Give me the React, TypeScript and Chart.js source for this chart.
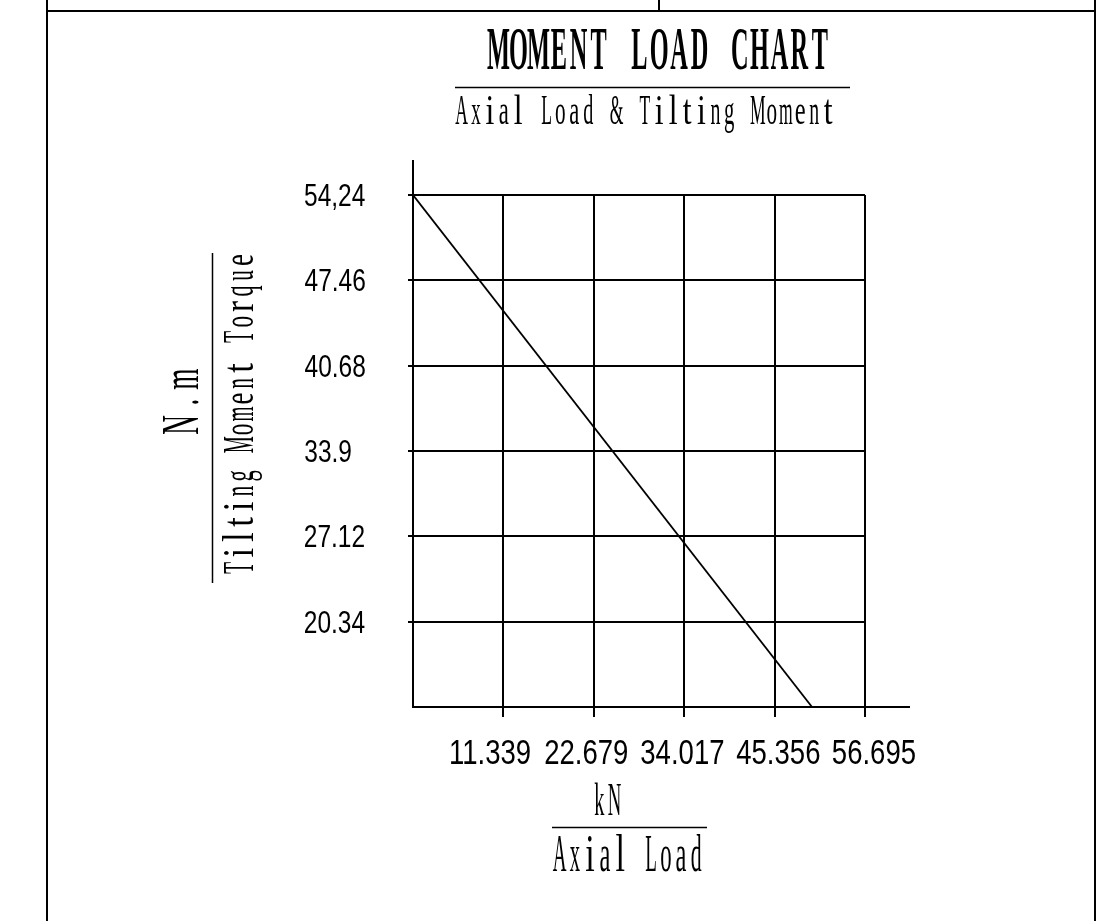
import React, { useEffect, useRef } from "react";
import { Chart, registerables } from "chart.js";

Chart.register(...registerables);

// ---- data ----
const axialLoad = [0, 50.05];
const tiltingMoment = [54.24, 13.56];
const xTickValues = [11.339, 22.679, 34.017, 45.356, 56.695];
const xTickLabels = ["11.339", "22.679", "34.017", "45.356", "56.695"];
const yTickValues = [20.34, 27.12, 33.9, 40.68, 47.46, 54.24];
const yTickLabels = ["20.34", "27.12", "33.9", "40.68", "47.46", "54,24"];
const xMin = 0;
const xMax = 56.695;
const yMin = 13.56;
const yMax = 54.24;

const titleText = "MOMENT LOAD CHART";
const subtitleText = "Axial Load & Tilting Moment";
const yUnitText = "N.m";
const yTitleText = "Tilting Moment Torque";
const xUnitText = "kN";
const xTitleText = "Axial Load";

const TITLE_FONT = '"Liberation Serif", "DejaVu Serif", serif';
const TICK_FONT = '"Liberation Sans", "DejaVu Sans", sans-serif';

// monospace-like CAD text: each char centered in a cell of width pitch
function drawMono(
  ctx: CanvasRenderingContext2D,
  text: string,
  cx: number,
  baseline: number,
  pitch: number,
  capH: number,
  rotated: boolean,
  glyphFactor: number,
  minFill: number,
  weight: string
) {
  ctx.save();
  ctx.font = `${weight} 100px ${TITLE_FONT}`;
  const mM = ctx.measureText("M");
  const mW = mM.actualBoundingBoxLeft + mM.actualBoundingBoxRight;
  const capAsc = ctx.measureText("H").actualBoundingBoxAscent;
  const sx = (pitch * glyphFactor) / mW;
  const sy = capH / capAsc;
  ctx.translate(cx, baseline);
  if (rotated) ctx.rotate(-Math.PI / 2);
  ctx.fillStyle = "#000";
  ctx.textAlign = "left";
  ctx.textBaseline = "alphabetic";
  const n = text.length;
  const start = (-n * pitch) / 2;
  for (let i = 0; i < n; i++) {
    const ch = text[i];
    if (ch === " ") continue;
    const m = ctx.measureText(ch);
    const w = m.actualBoundingBoxLeft + m.actualBoundingBoxRight;
    let s = sx;
    if (w > 0 && w * sx < minFill * pitch && !".,".includes(ch)) {
      s = sx * Math.min((minFill * pitch) / (w * sx), 1.8);
    }
    const inkC = (m.actualBoundingBoxRight - m.actualBoundingBoxLeft) / 2;
    ctx.save();
    ctx.translate(start + (i + 0.5) * pitch, 0);
    ctx.scale(s, sy);
    ctx.fillText(ch, -inkC, 0);
    ctx.restore();
  }
  ctx.restore();
}

// tick text with a given scale
function drawTick(
  ctx: CanvasRenderingContext2D,
  text: string,
  x: number,
  y: number,
  sx: number,
  sy: number,
  align: "left" | "center"
) {
  ctx.save();
  ctx.font = `normal 100px ${TICK_FONT}`;
  const m = ctx.measureText(text);
  ctx.translate(x, y);
  ctx.scale(sx, sy);
  ctx.textAlign = "left";
  ctx.textBaseline = "alphabetic";
  ctx.fillStyle = "#000";
  const off = align === "left" ? m.actualBoundingBoxLeft : -(m.actualBoundingBoxRight - m.actualBoundingBoxLeft) / 2;
  ctx.fillText(text, off, 0);
  ctx.restore();
}

function measureScale(ctx: CanvasRenderingContext2D, text: string, w: number, h: number) {
  ctx.save();
  ctx.font = `normal 100px ${TICK_FONT}`;
  const m = ctx.measureText(text);
  const inkW = m.actualBoundingBoxLeft + m.actualBoundingBoxRight;
  const asc = ctx.measureText("0").actualBoundingBoxAscent;
  ctx.restore();
  return { sx: w / inkW, sy: h / asc };
}

function line(ctx: CanvasRenderingContext2D, x1: number, y1: number, x2: number, y2: number, w: number) {
  ctx.save();
  ctx.strokeStyle = "#000";
  ctx.lineWidth = w;
  ctx.beginPath();
  ctx.moveTo(x1, y1);
  ctx.lineTo(x2, y2);
  ctx.stroke();
  ctx.restore();
}

const drawingPlugin = {
  id: "cadDrawing",
  beforeDraw(chart: any) {
    const ctx = chart.ctx as CanvasRenderingContext2D;
    // sheet frame
    line(ctx, 47, 0, 47, 921, 2);
    line(ctx, 1095, 0, 1095, 921, 2);
    line(ctx, 47, 11, 1095, 11, 2);
    line(ctx, 659, 0, 659, 11, 2);
  },
  afterDraw(chart: any) {
    const ctx = chart.ctx as CanvasRenderingContext2D;
    const { left, top, right, bottom } = chart.chartArea;
    // axis extensions
    line(ctx, left, top, left, top - 35, 2);
    line(ctx, right, bottom, right + 45, bottom, 2);

    // tick labels (condensed), placed through the scales
    const xs = chart.scales.x;
    const ys = chart.scales.y;
    const xk = measureScale(ctx, "11.339", 79, 24);
    xTickValues.forEach((v, i) => {
      drawTick(ctx, xTickLabels[i], xs.getPixelForValue(v) + (i - 2) * 5.5 - 2, 764, xk.sx, xk.sy, "center");
    });
    const yk = measureScale(ctx, "47.46", 60, 22);
    yTickValues.forEach((v, i) => {
      drawTick(ctx, yTickLabels[i], 305, ys.getPixelForValue(v) + 11, yk.sx, yk.sy, "left");
    });

    // titles
    drawMono(ctx, titleText, 659, 69, 20.1, 40, false, 1.1, 0.6, "bold");
    line(ctx, 455, 87.5, 850, 87.5, 1.5);
    drawMono(ctx, subtitleText, 645, 124, 14.1, 27, false, 1.05, 0.66, "normal");

    // y-axis title
    drawMono(ctx, yUnitText, 198, 402, 23, 34, true, 1.0, 0.66, "normal");
    line(ctx, 212.5, 253, 212.5, 583, 1.5);
    drawMono(ctx, yTitleText, 253, 414, 15.4, 29, true, 1.05, 0.66, "normal");

    // x-axis title
    drawMono(ctx, xUnitText, 607, 815, 15, 30, false, 1.05, 0.66, "normal");
    line(ctx, 552, 827.5, 707, 827.5, 1.5);
    drawMono(ctx, xTitleText, 628, 871, 15.2, 34, false, 1.05, 0.66, "normal");
  },
};

export default function App() {
  const canvasRef = useRef<HTMLCanvasElement | null>(null);

  useEffect(() => {
    const canvas = canvasRef.current;
    if (!canvas) return;
    const chart = new Chart(canvas, {
      type: "scatter",
      data: {
        datasets: [
          {
            label: "Moment load",
            data: axialLoad.map((x, i) => ({ x, y: tiltingMoment[i] })),
            showLine: true,
            borderColor: "#000",
            borderWidth: 1.8,
            pointRadius: 0,
            fill: false,
          },
        ],
      },
      options: {
        animation: false,
        responsive: false,
        devicePixelRatio: 1,
        layout: { padding: { left: 305, top: 195, right: 248, bottom: 154 } },
        plugins: {
          legend: { display: false },
          tooltip: { enabled: false },
          title: { display: false },
        },
        scales: {
          x: {
            type: "linear",
            min: xMin,
            max: xMax,
            afterBuildTicks: (s: any) => {
              s.ticks = xTickValues.map((v) => ({ value: v }));
            },
            afterFit: (s: any) => {
              s.height = 60;
            },
            ticks: { display: false },
            grid: { color: "#000", lineWidth: 2, tickLength: 10, drawTicks: true },
            border: { display: true, color: "#000", width: 2 },
          },
          y: {
            type: "linear",
            min: yMin,
            max: yMax,
            afterBuildTicks: (s: any) => {
              s.ticks = yTickValues.map((v) => ({ value: v }));
            },
            afterFit: (s: any) => {
              s.width = 108;
            },
            ticks: { display: false },
            grid: { color: "#000", lineWidth: 2, tickLength: 5, drawTicks: true },
            border: { display: true, color: "#000", width: 2 },
          },
        },
      },
      plugins: [drawingPlugin],
    } as any);
    return () => chart.destroy();
  }, []);

  return (
    <div style={{ position: "absolute", left: 0, top: 0, width: 1113, height: 921, background: "#fff" }}>
      <canvas ref={canvasRef} width={1113} height={921} style={{ display: "block", width: 1113, height: 921 }} />
    </div>
  );
}
